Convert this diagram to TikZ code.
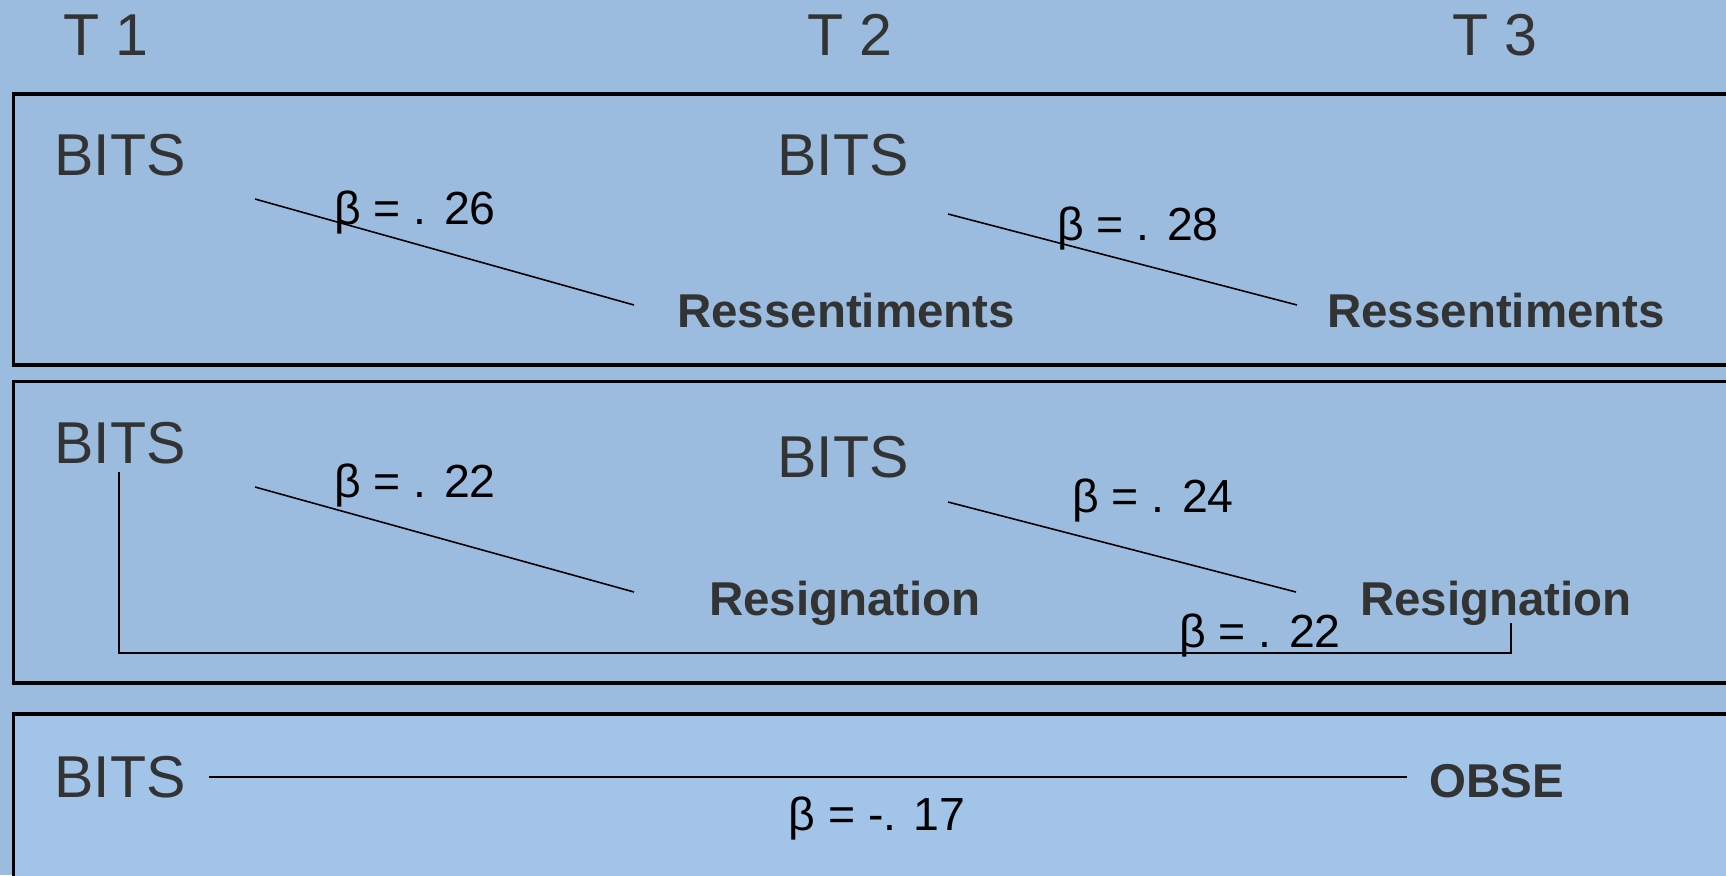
\documentclass[tikz,border=0pt]{standalone}
\usepackage{fontspec}
\setmainfont{Liberation Sans}
\usepackage{xcolor}
\definecolor{sheetblue}{HTML}{9BBCDF}
\definecolor{panellight}{HTML}{A1C4E8}
\definecolor{labelgray}{HTML}{333333}

\begin{document}
\begin{tikzpicture}[x=0.01cm,y=-0.01cm,
  panel/.style={draw=black, line width=0.9pt},
  wave/.style={anchor=base, inner sep=0pt, text=labelgray, font=\fontsize{16.8}{20}\selectfont},
  var/.style={anchor=base, inner sep=0pt, text=labelgray, font=\fontsize{16.8}{20}\selectfont},
  outcome/.style={anchor=base, inner sep=0pt, text=labelgray, font=\fontsize{13.5}{16}\selectfont\bfseries},
  coef/.style={anchor=base, inner sep=0pt, font=\fontsize{13.2}{16}\selectfont},
  link/.style={draw=black, line width=0.45pt}]
  \fill[sheetblue] (0,0) rectangle (1726,875);
  \useasboundingbox (0,0) rectangle (1726,875);

  \node[wave] (t1) at (106,55) {T 1};
  \node[wave] (t2) at (850,55) {T 2};
  \node[wave] (t3) at (1495,55) {T 3};

  % ressentiments panel
  \draw[panel] (13.5,94) rectangle (1760,365);
  \node[var] (bitsA1) at (120,175) {BITS};
  \node[var] (bitsA2) at (843,175) {BITS};
  \node[outcome] (resA2) at (846,327) {Ressentiments};
  \node[outcome] (resA3) at (1496,327) {Ressentiments};
  \coordinate (lnA1s) at (255,199);
  \coordinate (lnA1e) at (634,305);
  \coordinate (lnA2s) at (948,214);
  \coordinate (lnA2e) at (1297,305);
  \draw[link] (lnA1s) -- (lnA1e);
  \draw[link] (lnA2s) -- (lnA2e);
  \node[coef] (bA1) at (415,224) {β = . 26};
  \node[coef] (bA2) at (1138,240) {β = . 28};

  % resignation panel
  \draw[panel] (13.5,381.5) rectangle (1760,683);
  \node[var] (bitsB1) at (120,463) {BITS};
  \node[var] (bitsB2) at (843,477) {BITS};
  \node[outcome] (resB2) at (845,615) {Resignation};
  \node[outcome] (resB3) at (1496,615) {Resignation};
  \coordinate (lnB1s) at (255,487);
  \coordinate (lnB1e) at (634,592);
  \coordinate (lnB2s) at (948,502);
  \coordinate (lnB2e) at (1296,592);
  \coordinate (brB1) at (119,472);
  \coordinate (brB3) at (1511,623);
  \draw[link] (lnB1s) -- (lnB1e);
  \draw[link] (lnB2s) -- (lnB2e);
  \draw[link] (brB1) -- (119,653) -- (1511,653) -- (brB3);
  \node[coef] (bB1) at (415,497) {β = . 22};
  \node[coef] (bB2) at (1153,512) {β = . 24};
  \node[coef] (bB3) at (1260,647) {β = . 22};

  % self-esteem panel
  \draw[panel, fill=panellight] (13.5,714) rectangle (1760,900);
  \node[var] (bitsC1) at (120,797) {BITS};
  \node[outcome] (obse) at (1497,797) {OBSE};
  \coordinate (lnC1s) at (209,777);
  \coordinate (lnC1e) at (1407,777);
  \draw[link, line width=0.6pt] (lnC1s) -- (lnC1e);
  \node[coef] (bC1) at (877,830) {β = -. 17};
\end{tikzpicture}
\end{document}
